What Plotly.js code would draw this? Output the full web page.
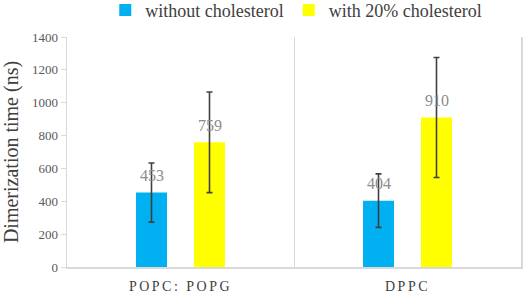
<!DOCTYPE html>
<html>
<head>
<meta charset="utf-8">
<script src="https://cdn.plot.ly/plotly-3.0.1.min.js"></script>
<style>
html,body{margin:0;padding:0;background:#fff;}
#chart{width:526px;height:294px;}
#chart text{font-family:"Liberation Serif","Times New Roman",serif !important;}
.xtick text{letter-spacing:2.5px;}
</style>
</head>
<body>
<div id="chart"></div>
<script>
const categories = ["POPC: POPG", "DPPC"];
const seriesNames = ["without cholesterol", "with 20% cholesterol"];
const withoutChol = [453, 404];
const withoutCholErr = [180, 163];
const withChol = [759, 910];
const withCholErr = [306, 365];
const colors = ["#00B0F0", "#FFFF00"];

const serif = "Liberation Serif";
const errStyle = {type: "data", visible: true, color: "#404040", thickness: 1.6, width: 3};

const traces = [
  {type: "bar", name: seriesNames[0], x: categories, y: withoutChol,
   marker: {color: colors[0]}, error_y: Object.assign({array: withoutCholErr}, errStyle)},
  {type: "bar", name: seriesNames[1], x: categories, y: withChol,
   marker: {color: colors[1]}, error_y: Object.assign({array: withCholErr}, errStyle)}
];

const annotations = [];
[withoutChol, withChol].forEach((vals, si) => {
  vals.forEach((v, ci) => {
    annotations.push({
      x: categories[ci], y: v, xref: "x", yref: "y", text: String(v),
      showarrow: false, yanchor: "middle", yshift: 17,
      xshift: si === 0 ? -29 : 29,
      font: {family: serif, size: 16, color: "#8c8c8c"}
    });
  });
});

const layout = {
  width: 526, height: 294,
  margin: {l: 67, r: 5, t: 37, b: 27, autoexpand: false},
  paper_bgcolor: "#fff", plot_bgcolor: "#fff",
  barmode: "group", bargap: 0.489, bargroupgap: 0.466,
  font: {family: serif, color: "#595959"},
  showlegend: true,
  legend: {orientation: "h", x: 0.505, xanchor: "center", y: 1.196, yanchor: "top",
           yref: "paper", font: {family: serif, size: 18, color: "#404040"},
           tracegroupgap: 0, itemwidth: 30},
  xaxis: {type: "category", tickson: "boundaries", showgrid: true, gridcolor: "#d9d9d9", gridwidth: 1,
          showline: true, linecolor: "#d9d9d9", linewidth: 1.5, ticks: "", ticklen: 0,
          ticklabelstandoff: 6,
          tickfont: {family: serif, size: 14, color: "#404040"}, fixedrange: true},
  yaxis: {range: [0, 1400], dtick: 200, showgrid: false, zeroline: false,
          showline: true, mirror: true, linecolor: "#d9d9d9", linewidth: 1.5, ticks: "outside", ticklen: 5,
          tickcolor: "#d9d9d9", tickfont: {family: serif, size: 13, color: "#595959"},
          title: {text: "Dimerization time (ns)", font: {family: serif, size: 20, color: "#404040"}, standoff: 9}},
  annotations: annotations
};

Plotly.newPlot("chart", traces, layout, {displayModeBar: false, staticPlot: true});
</script>
</body>
</html>
